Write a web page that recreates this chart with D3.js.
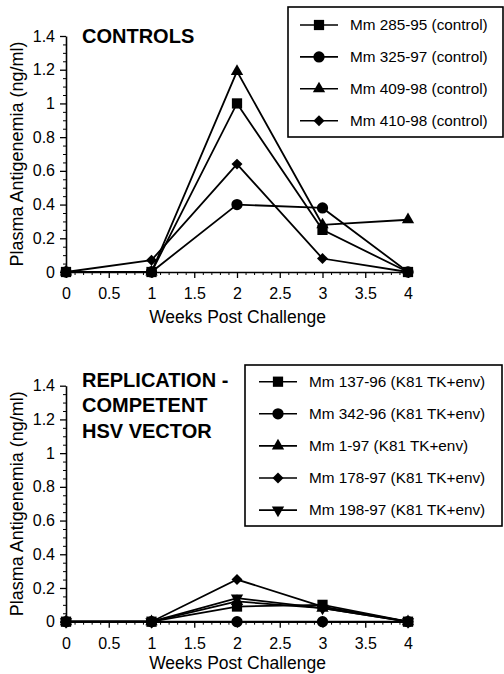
<!DOCTYPE html>
<html><head><meta charset="utf-8">
<script src="https://cdn.jsdelivr.net/npm/d3@7"></script>
<style>
html,body{margin:0;padding:0;background:#fff;}
svg{display:block;}
text{font-family:"Liberation Sans",Arial,Helvetica,sans-serif;fill:#000;}
</style></head>
<body>
<script>
// ---- data ----
const weeks = [0, 1, 2, 3, 4];
const xTickValues = [0, 0.5, 1, 1.5, 2, 2.5, 3, 3.5, 4];
const xTickLabels = ["0", "0.5", "1", "1.5", "2", "2.5", "3", "3.5", "4"];
const yTickValues = [0, 0.2, 0.4, 0.6, 0.8, 1, 1.2, 1.4];
const yTickLabels = ["0", "0.2", "0.4", "0.6", "0.8", "1", "1.2", "1.4"];

const controlNames = ["Mm 285-95 (control)", "Mm 325-97 (control)", "Mm 409-98 (control)", "Mm 410-98 (control)"];
const controlSymbols = ["square", "circle", "triangle", "diamond"];
const mm285_95 = [0, 0, 1.0, 0.25, 0];
const mm325_97 = [0, 0, 0.40, 0.38, 0];
const mm409_98 = [0, 0, 1.19, 0.28, 0.31];
const mm410_98 = [0, 0.07, 0.64, 0.08, 0];

const vectorNames = ["Mm 137-96 (K81 TK+env)", "Mm 342-96 (K81 TK+env)", "Mm 1-97 (K81 TK+env)", "Mm 178-97 (K81 TK+env)", "Mm 198-97 (K81 TK+env)"];
const vectorSymbols = ["square", "circle", "triangle", "diamond", "triangleDown"];
const mm137_96 = [0, 0, 0.09, 0.10, 0];
const mm342_96 = [0, 0, 0, 0, 0];
const mm1_97 = [0, 0, 0.12, 0.08, 0];
const mm178_97 = [0, 0, 0.25, 0.09, 0];
const mm198_97 = [0, 0, 0.14, 0.08, 0];

const xTitle = "Weeks Post Challenge";
const yTitle = "Plasma Antigenemia (ng/ml)";

// ---- drawing ----
const W = 504, H = 674;
const svg = d3.select("body").append("svg").attr("width", W).attr("height", H);

const x = d3.scaleLinear().domain([0, 4]).range([66, 408]);

function symbolPath(kind) {
  const map = {
    square: d3.symbol(d3.symbolSquare, 105),
    circle: d3.symbol(d3.symbolCircle, 100),
    triangle: d3.symbol(d3.symbolTriangle, 66),
    triangleDown: d3.symbol(d3.symbolTriangle, 66),
    diamond: d3.symbol(d3.symbolSquare, 60)
  };
  return map[kind]();
}
function symbolRot(kind) {
  if (kind === "diamond") return 45;
  if (kind === "triangleDown") return 180;
  return 0;
}

function panel(cfg) {
  const y = d3.scaleLinear().domain([0, 1.4]).range([cfg.y0, cfg.y0 - 236]);
  const g = svg.append("g");

  // minor ticks
  const xMinor = d3.range(0, 4.0001, 0.1).map(v => +v.toFixed(2)).filter(v => !xTickValues.includes(v));
  const yMinor = d3.range(0, 1.4001, 0.05).map(v => +v.toFixed(2)).filter(v => !yTickValues.some(t => Math.abs(t - v) < 1e-6));
  g.append("g").attr("transform", `translate(0,${cfg.y0})`)
    .call(d3.axisBottom(x).tickValues(xMinor).tickSize(3).tickFormat(""))
    .call(s => s.select(".domain").remove())
    .call(s => s.selectAll("line").attr("stroke-width", 1));
  g.append("g").attr("transform", `translate(66,0)`)
    .call(d3.axisLeft(y).tickValues(yMinor).tickSize(3).tickFormat(""))
    .call(s => s.select(".domain").remove())
    .call(s => s.selectAll("line").attr("stroke-width", 1));

  // major axes
  g.append("g").attr("transform", `translate(0,${cfg.y0})`)
    .call(d3.axisBottom(x).tickValues(xTickValues).tickSize(6).tickSizeOuter(0).tickPadding(10)
      .tickFormat((d, i) => xTickLabels[i]))
    .call(s => s.select(".domain").attr("stroke-width", 1.6))
    .call(s => s.selectAll("line").attr("stroke-width", 1.3))
    .call(s => s.selectAll("text").attr("font-size", 16).style("font-family", '"Liberation Sans",Arial,sans-serif'));
  g.append("g").attr("transform", `translate(66,0)`)
    .call(d3.axisLeft(y).tickValues(yTickValues).tickSize(6).tickSizeOuter(0).tickPadding(5)
      .tickFormat((d, i) => yTickLabels[i]))
    .call(s => s.select(".domain").attr("stroke-width", 1.6))
    .call(s => s.selectAll("line").attr("stroke-width", 1.3))
    .call(s => s.selectAll("text").attr("font-size", 16).style("font-family", '"Liberation Sans",Arial,sans-serif'));

  // axis titles
  g.append("text").attr("x", 237.5).attr("y", cfg.y0 + cfg.xTitleOff).attr("text-anchor", "middle")
    .attr("font-size", 17.5).text(xTitle);
  g.append("text").attr("transform", `translate(23,${cfg.y0 - 118}) rotate(-90)`)
    .attr("text-anchor", "middle").attr("font-size", 18).text(yTitle);

  // panel title
  cfg.title.forEach((t, i) => {
    g.append("text").attr("x", 82).attr("y", cfg.titleY + i * 25.3)
      .attr("font-size", 20).attr("font-weight", "bold").text(t);
  });

  // series
  const line = d3.line().x((d, i) => x(weeks[i])).y(d => y(d));
  cfg.series.forEach((vals, si) => {
    g.append("path").datum(vals).attr("d", line)
      .attr("fill", "none").attr("stroke", "#000").attr("stroke-width", 1.8);
  });
  cfg.series.forEach((vals, si) => {
    const kind = cfg.symbols[si];
    g.selectAll(null).data(vals).enter().append("path")
      .attr("d", symbolPath(kind))
      .attr("transform", (d, i) => `translate(${x(weeks[i])},${y(d)}) rotate(${symbolRot(kind)})`)
      .attr("fill", "#000");
  });

  // legend
  const L = cfg.legend;
  g.append("rect").attr("x", L.x).attr("y", L.y).attr("width", L.w).attr("height", L.h)
    .attr("fill", "#fff").attr("stroke", "#000").attr("stroke-width", 1.6);
  cfg.names.forEach((n, i) => {
    const cy = L.firstY + i * L.step;
    g.append("line").attr("x1", L.lineX).attr("x2", L.lineX + 38).attr("y1", cy).attr("y2", cy)
      .attr("stroke", "#000").attr("stroke-width", 1.6);
    const kind = cfg.symbols[i];
    g.append("path").attr("d", symbolPath(kind))
      .attr("transform", `translate(${L.lineX + 19},${cy}) rotate(${symbolRot(kind)})`).attr("fill", "#000");
    g.append("text").attr("x", L.textX).attr("y", cy).attr("dy", "0.35em")
      .attr("font-size", 15.3).text(n);
  });
}

panel({
  y0: 272,
  xTitleOff: 51,
  title: ["CONTROLS"],
  titleY: 42.5,
  series: [mm285_95, mm325_97, mm409_98, mm410_98],
  symbols: controlSymbols,
  names: controlNames,
  legend: {x: 288, y: 7, w: 215, h: 130, firstY: 25, step: 31.9, lineX: 300, textX: 350}
});

panel({
  y0: 621.7,
  xTitleOff: 47,
  title: ["REPLICATION -", "COMPETENT", "HSV VECTOR"],
  titleY: 387,
  series: [mm137_96, mm342_96, mm1_97, mm178_97, mm198_97],
  symbols: vectorSymbols,
  names: vectorNames,
  legend: {x: 245, y: 365, w: 257, h: 161, firstY: 381.7, step: 32.1, lineX: 259, textX: 309}
});
</script>
</body></html>
